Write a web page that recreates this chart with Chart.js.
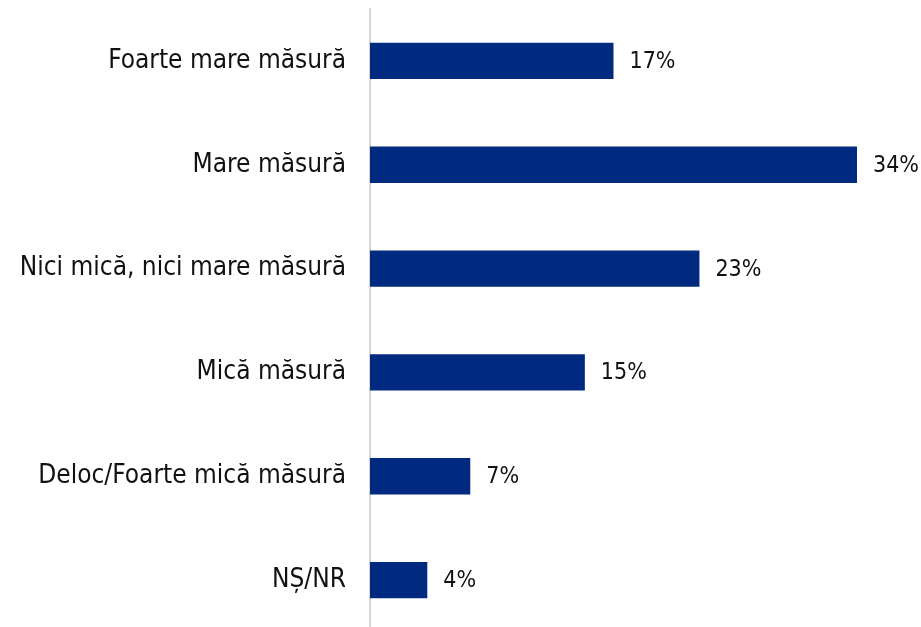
<!DOCTYPE html>
<html>
<head>
<meta charset="utf-8">
<script src="https://cdn.jsdelivr.net/npm/chart.js@4"></script>
<style>
  html, body { margin: 0; padding: 0; background: #fff; overflow: hidden; }
</style>
</head>
<body>
<canvas id="chart" width="921" height="632"></canvas>
<script>
const categories = ['Foarte mare măsură', 'Mare măsură', 'Nici mică, nici mare măsură', 'Mică măsură', 'Deloc/Foarte mică măsură', 'NȘ/NR'];
const values = [17, 34, 23, 15, 7, 4];

const FONT = '"DejaVu Sans Condensed", "DejaVu Sans", sans-serif';

// percentage labels at the end of each bar
const valueLabels = {
  id: 'valueLabels',
  afterDatasetsDraw(chart) {
    const ctx = chart.ctx;
    const meta = chart.getDatasetMeta(0);
    ctx.save();
    ctx.font = '23px ' + FONT;
    ctx.fillStyle = '#111';
    ctx.textAlign = 'left';
    ctx.textBaseline = 'middle';
    meta.data.forEach((bar, i) => {
      ctx.fillText(values[i] + '%', bar.x + 16, bar.y + 1);
    });
    ctx.restore();
  }
};

new Chart(document.getElementById('chart'), {
  type: 'bar',
  data: {
    labels: categories,
    datasets: [{
      data: values,
      backgroundColor: '#002a7f',
      categoryPercentage: 1,
      barPercentage: 0.35
    }]
  },
  options: {
    indexAxis: 'y',
    responsive: false,
    animation: false,
    layout: { padding: { top: 9, right: 64, bottom: 0, left: 0 } },
    plugins: { legend: { display: false }, tooltip: { enabled: false } },
    scales: {
      x: { display: false, min: 0, max: 34 },
      y: {
        afterFit(scale) {
          scale.width = 370;
          scale.paddingTop = 0;
          scale.paddingBottom = 0;
        },
        grid: { display: false, drawTicks: false },
        border: { display: true, color: '#d4d4d4', width: 2 },
        ticks: {
          padding: 24,
          color: '#111',
          font: { family: FONT, size: 26 }
        }
      }
    }
  },
  plugins: [valueLabels]
});
</script>
</body>
</html>
